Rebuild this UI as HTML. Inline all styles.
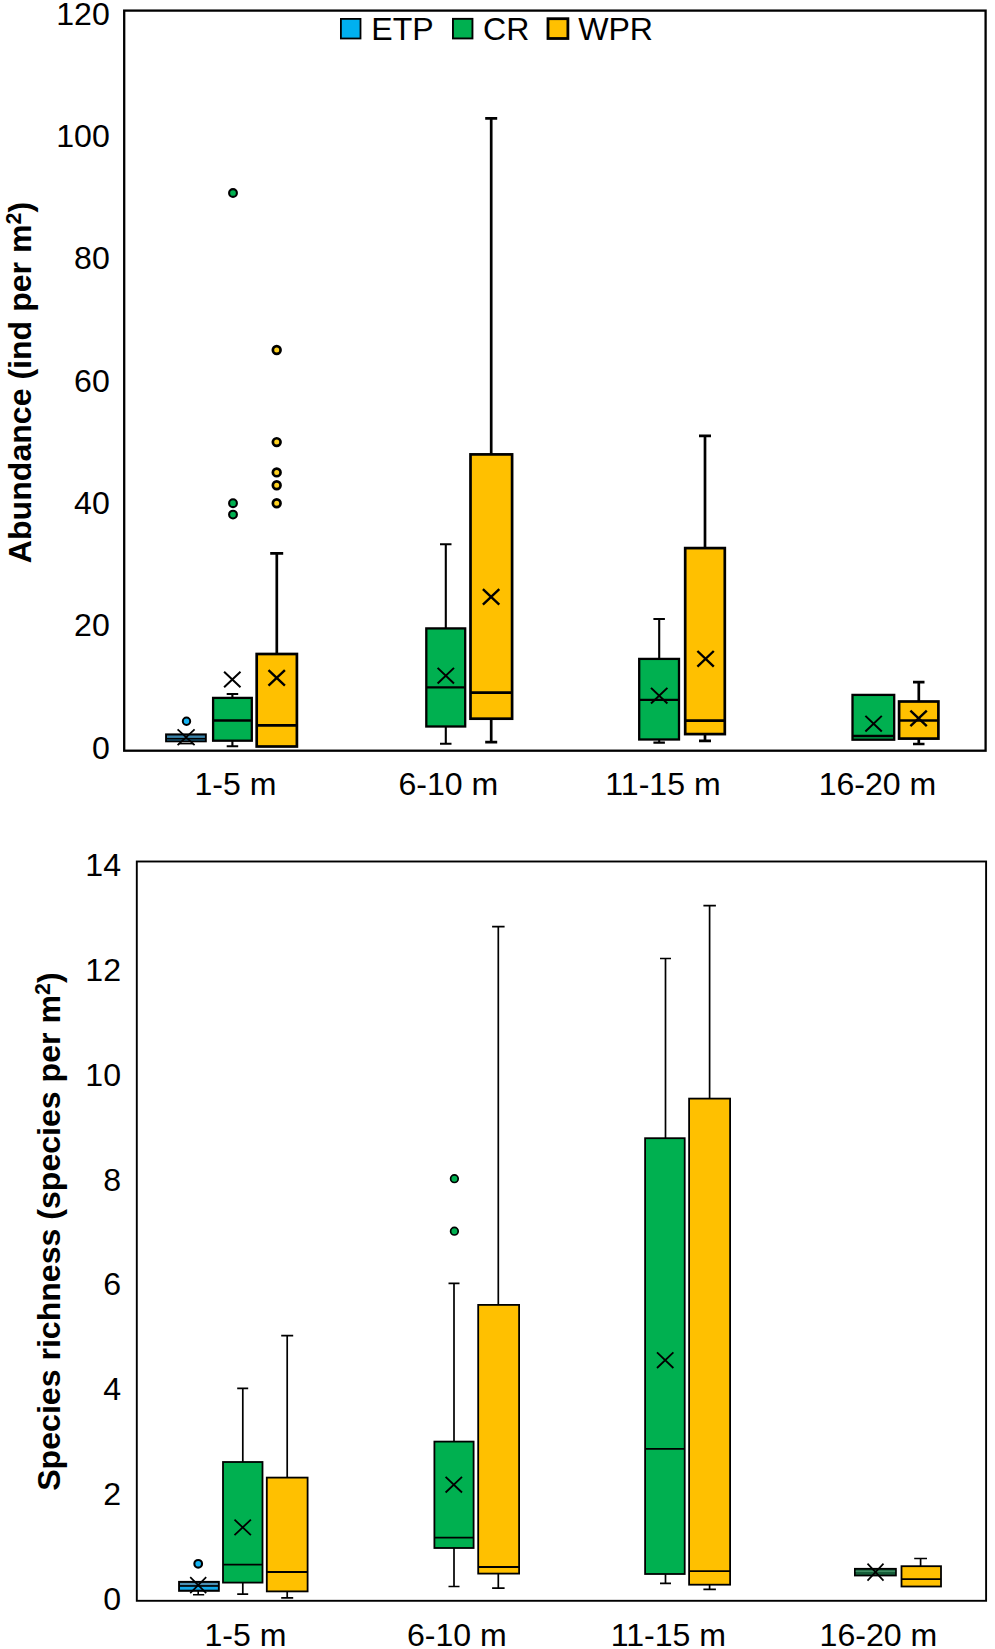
<!DOCTYPE html>
<html><head><meta charset="utf-8"><title>Box plots</title>
<style>html,body{margin:0;padding:0;background:#fff}svg{display:block}text{font-family:"Liberation Sans",sans-serif}</style>
</head><body>
<svg width="995" height="1649" viewBox="0 0 995 1649" font-family="Liberation Sans, sans-serif" font-size="32.1" fill="#000">
<rect width="995" height="1649" fill="#fff"/>
<g id="top">
<text x="109.8" y="24.7" text-anchor="end">120</text>
<text x="109.8" y="147.0" text-anchor="end">100</text>
<text x="109.8" y="269.3" text-anchor="end">80</text>
<text x="109.8" y="391.6" text-anchor="end">60</text>
<text x="109.8" y="513.9" text-anchor="end">40</text>
<text x="109.8" y="636.2" text-anchor="end">20</text>
<text x="109.8" y="758.5" text-anchor="end">0</text>
<text x="235.4" y="795.2" text-anchor="middle">1-5 m</text>
<text x="448.3" y="795.2" text-anchor="middle">6-10 m</text>
<text x="663.0" y="795.2" text-anchor="middle">11-15 m</text>
<text x="877.5" y="795.2" text-anchor="middle">16-20 m</text>
<text transform="translate(31.2 382.5) rotate(-90)" text-anchor="middle" font-weight="bold">Abundance (ind per m<tspan font-size="21.5" dy="-10.3">2</tspan><tspan dy="10.3">)</tspan></text>
<path d="M178.5 743.6H193.6" stroke="#000" stroke-width="1.6"/>
<rect x="165.1" y="733.4" width="41.7" height="8.9" fill="#000"/>
<rect x="167.0" y="735.5" width="37.9" height="2.4" fill="#3a84ab"/>
<rect x="167.0" y="739.3" width="37.9" height="1.4" fill="#17526f"/>
<path d="M177.6 729.4L194.6 745.2M177.6 745.2L194.6 729.4" stroke="#000" stroke-width="1.8" fill="none"/>
<circle cx="186.5" cy="721.3" r="3.7" fill="#14b3f2" stroke="#000" stroke-width="2.0"/>
<path d="M232.4 697.9V694.0M226.7 694.0H238.2" stroke="#000" stroke-width="2.1" fill="none"/>
<path d="M232.4 740.8V746.2M226.7 746.2H238.2" stroke="#000" stroke-width="2.1" fill="none"/>
<rect x="213.1" y="697.9" width="38.7" height="42.8" fill="#00b050" stroke="#000" stroke-width="2.3"/>
<path d="M213.1 720.5H251.8" stroke="#000" stroke-width="2.3"/>
<path d="M224.1 671.7L240.5 687.3M224.1 687.3L240.5 671.7" stroke="#000" stroke-width="2.0" fill="none"/>
<circle cx="233.0" cy="193.0" r="3.9" fill="#00b050" stroke="#000" stroke-width="2.1"/>
<circle cx="233.0" cy="503.2" r="3.9" fill="#00b050" stroke="#000" stroke-width="2.1"/>
<circle cx="233.0" cy="514.6" r="3.9" fill="#00b050" stroke="#000" stroke-width="2.1"/>
<path d="M276.8 654.0V553.4M270.2 553.4H283.2" stroke="#000" stroke-width="2.7" fill="none"/>
<rect x="256.7" y="654.0" width="40.2" height="92.5" fill="#ffc000" stroke="#000" stroke-width="2.7"/>
<path d="M256.7 725.3H296.8" stroke="#000" stroke-width="2.7"/>
<path d="M268.5 670.1L284.9 685.7M268.5 685.7L284.9 670.1" stroke="#000" stroke-width="2.4" fill="none"/>
<circle cx="276.7" cy="350.0" r="3.85" fill="#ffd21f" stroke="#000" stroke-width="2.7"/>
<circle cx="276.7" cy="442.1" r="3.85" fill="#ffd21f" stroke="#000" stroke-width="2.7"/>
<circle cx="276.7" cy="472.4" r="3.85" fill="#ffd21f" stroke="#000" stroke-width="2.7"/>
<circle cx="276.7" cy="485.3" r="3.85" fill="#ffd21f" stroke="#000" stroke-width="2.7"/>
<circle cx="276.7" cy="503.2" r="3.85" fill="#ffd21f" stroke="#000" stroke-width="2.7"/>
<path d="M445.8 628.4V544.3M440.0 544.3H451.5" stroke="#000" stroke-width="2.1" fill="none"/>
<path d="M445.8 726.5V743.7M440.0 743.7H451.5" stroke="#000" stroke-width="2.1" fill="none"/>
<rect x="426.3" y="628.4" width="38.9" height="98.1" fill="#00b050" stroke="#000" stroke-width="2.3"/>
<path d="M426.3 687.4H465.2" stroke="#000" stroke-width="2.3"/>
<path d="M437.6 667.9L454.0 683.5M437.6 683.5L454.0 667.9" stroke="#000" stroke-width="2.0" fill="none"/>
<path d="M491.2 454.4V118.3M485.2 118.3H497.2" stroke="#000" stroke-width="2.7" fill="none"/>
<path d="M491.2 718.6V742.1M485.2 742.1H497.2" stroke="#000" stroke-width="2.7" fill="none"/>
<rect x="470.5" y="454.4" width="41.6" height="264.3" fill="#ffc000" stroke="#000" stroke-width="2.7"/>
<path d="M470.5 692.6H512.0" stroke="#000" stroke-width="2.7"/>
<path d="M482.9 589.1L499.3 604.7M482.9 604.7L499.3 589.1" stroke="#000" stroke-width="2.4" fill="none"/>
<path d="M659.2 658.9V619.0M653.4 619.0H664.9" stroke="#000" stroke-width="2.1" fill="none"/>
<path d="M659.2 739.5V742.6M653.4 742.6H664.9" stroke="#000" stroke-width="2.1" fill="none"/>
<rect x="639.2" y="658.9" width="39.8" height="80.6" fill="#00b050" stroke="#000" stroke-width="2.3"/>
<path d="M639.2 699.8H679.1" stroke="#000" stroke-width="2.3"/>
<path d="M651.0 687.9L667.4 703.5M651.0 703.5L667.4 687.9" stroke="#000" stroke-width="2.0" fill="none"/>
<path d="M705.0 548.1V435.9M699.0 435.9H711.0" stroke="#000" stroke-width="2.7" fill="none"/>
<path d="M705.0 734.1V740.8M699.0 740.8H711.0" stroke="#000" stroke-width="2.7" fill="none"/>
<rect x="685.2" y="548.1" width="39.6" height="186.0" fill="#ffc000" stroke="#000" stroke-width="2.7"/>
<path d="M685.2 720.6H724.9" stroke="#000" stroke-width="2.7"/>
<path d="M697.4 651.0L713.8 666.6M697.4 666.6L713.8 651.0" stroke="#000" stroke-width="2.4" fill="none"/>
<rect x="852.5" y="694.9" width="41.7" height="44.8" fill="#00b050" stroke="#000" stroke-width="2.3"/>
<path d="M852.5 736.0H894.2" stroke="#000" stroke-width="2.3"/>
<path d="M865.4 715.9L881.8 731.5M865.4 731.5L881.8 715.9" stroke="#000" stroke-width="2.0" fill="none"/>
<path d="M918.8 701.5V682.1M913.0 682.1H924.5" stroke="#000" stroke-width="2.7" fill="none"/>
<path d="M918.8 738.5V744.0M913.0 744.0H924.5" stroke="#000" stroke-width="2.7" fill="none"/>
<rect x="899.1" y="701.5" width="39.3" height="37.1" fill="#ffc000" stroke="#000" stroke-width="2.7"/>
<path d="M899.1 720.5H938.4" stroke="#000" stroke-width="2.7"/>
<path d="M910.4 710.6L926.8 726.2M910.4 726.2L926.8 710.6" stroke="#000" stroke-width="2.4" fill="none"/>
<rect x="124.2" y="10.6" width="861.4" height="740.1" fill="none" stroke="#000" stroke-width="2.3"/>
<rect x="340.90" y="18.90" width="19.60" height="19.60" fill="#00b0f0" stroke="#000" stroke-width="1.8"/>
<text x="371.3" y="40.4" text-anchor="start">ETP</text>
<rect x="452.95" y="18.85" width="19.50" height="19.60" fill="#00b050" stroke="#000" stroke-width="1.9"/>
<text x="483.0" y="40.4" text-anchor="start">CR</text>
<rect x="548.00" y="18.70" width="19.90" height="19.80" fill="#ffc000" stroke="#000" stroke-width="2.8"/>
<text x="578.2" y="40.4" text-anchor="start">WPR</text>
</g>
<g id="bot">
<text x="121.0" y="876.0" text-anchor="end">14</text>
<text x="121.0" y="980.8" text-anchor="end">12</text>
<text x="121.0" y="1085.7" text-anchor="end">10</text>
<text x="121.0" y="1190.5" text-anchor="end">8</text>
<text x="121.0" y="1295.4" text-anchor="end">6</text>
<text x="121.0" y="1400.2" text-anchor="end">4</text>
<text x="121.0" y="1505.0" text-anchor="end">2</text>
<text x="121.0" y="1609.9" text-anchor="end">0</text>
<text x="245.5" y="1645.8" text-anchor="middle">1-5 m</text>
<text x="456.9" y="1645.8" text-anchor="middle">6-10 m</text>
<text x="668.4" y="1645.8" text-anchor="middle">11-15 m</text>
<text x="878.4" y="1645.8" text-anchor="middle">16-20 m</text>
<text transform="translate(60.2 1231.6) rotate(-90)" text-anchor="middle" font-weight="bold">Species richness (species per m<tspan font-size="21.5" dy="-10.3">2</tspan><tspan dy="10.3">)</tspan></text>
<path d="M198.2 1591V1594.8M193 1594.8H204.2" stroke="#000" stroke-width="1.6" fill="none"/>
<rect x="178.1" y="1580.9" width="41.7" height="10.9" fill="#000"/>
<rect x="180.0" y="1582.9" width="37.9" height="2.2" fill="#4a8fb3"/>
<rect x="180.0" y="1586.8" width="37.9" height="2.9" fill="#12a9ea"/>
<path d="M190.2 1577.2L206.2 1593.2M190.2 1593.2L206.2 1577.2" stroke="#000" stroke-width="1.7" fill="none"/>
<circle cx="198.2" cy="1563.8" r="3.85" fill="#14b3f2" stroke="#000" stroke-width="2.1"/>
<path d="M242.8 1462.0V1388.3M237.2 1388.3H248.2" stroke="#000" stroke-width="1.7" fill="none"/>
<path d="M242.8 1582.6V1594.2M237.2 1594.2H248.2" stroke="#000" stroke-width="1.7" fill="none"/>
<rect x="223.0" y="1462.0" width="39.5" height="120.6" fill="#00b050" stroke="#000" stroke-width="1.8"/>
<path d="M223.0 1564.7H262.5" stroke="#000" stroke-width="1.8"/>
<path d="M234.5 1519.6L250.9 1535.2M234.5 1535.2L250.9 1519.6" stroke="#000" stroke-width="1.8" fill="none"/>
<path d="M287.2 1477.6V1335.7M281.2 1335.7H293.2" stroke="#000" stroke-width="1.7" fill="none"/>
<path d="M287.2 1591.4V1597.9M281.2 1597.9H293.2" stroke="#000" stroke-width="1.7" fill="none"/>
<rect x="266.8" y="1477.6" width="40.8" height="113.8" fill="#ffc000" stroke="#000" stroke-width="1.8"/>
<path d="M266.8 1572.0H307.6" stroke="#000" stroke-width="1.8"/>
<path d="M454.0 1441.6V1283.3M448.5 1283.3H459.5" stroke="#000" stroke-width="1.7" fill="none"/>
<path d="M454.0 1548.0V1586.5M448.5 1586.5H459.5" stroke="#000" stroke-width="1.7" fill="none"/>
<rect x="434.4" y="1441.6" width="39.2" height="106.4" fill="#00b050" stroke="#000" stroke-width="1.8"/>
<path d="M434.4 1537.7H473.6" stroke="#000" stroke-width="1.8"/>
<path d="M445.6 1476.9L462.0 1492.5M445.6 1492.5L462.0 1476.9" stroke="#000" stroke-width="1.8" fill="none"/>
<circle cx="454.4" cy="1178.7" r="3.8" fill="#00b050" stroke="#000" stroke-width="1.7"/>
<circle cx="454.4" cy="1231.2" r="3.8" fill="#00b050" stroke="#000" stroke-width="1.7"/>
<path d="M498.3 1304.9V926.6M492.1 926.6H504.6" stroke="#000" stroke-width="1.7" fill="none"/>
<path d="M498.3 1573.6V1588.2M492.1 1588.2H504.6" stroke="#000" stroke-width="1.7" fill="none"/>
<rect x="478.2" y="1304.9" width="40.9" height="268.7" fill="#ffc000" stroke="#000" stroke-width="1.8"/>
<path d="M478.2 1567.0H519.1" stroke="#000" stroke-width="1.8"/>
<path d="M665.5 1138.2V958.5M660.0 958.5H671.0" stroke="#000" stroke-width="1.7" fill="none"/>
<path d="M665.5 1574.0V1583.4M660.0 1583.4H671.0" stroke="#000" stroke-width="1.7" fill="none"/>
<rect x="645.1" y="1138.2" width="39.6" height="435.8" fill="#00b050" stroke="#000" stroke-width="1.8"/>
<path d="M645.1 1448.9H684.7" stroke="#000" stroke-width="1.8"/>
<path d="M657.0 1352.4L673.4 1368.0M657.0 1368.0L673.4 1352.4" stroke="#000" stroke-width="1.8" fill="none"/>
<path d="M709.6 1098.6V905.7M703.4 905.7H715.9" stroke="#000" stroke-width="1.7" fill="none"/>
<path d="M709.6 1584.7V1589.3M703.4 1589.3H715.9" stroke="#000" stroke-width="1.7" fill="none"/>
<rect x="689.1" y="1098.6" width="41.0" height="486.1" fill="#ffc000" stroke="#000" stroke-width="1.8"/>
<path d="M689.1 1571.1H730.1" stroke="#000" stroke-width="1.8"/>
<rect x="854.0" y="1567.9" width="42.8" height="8.5" fill="#000"/>
<rect x="855.7" y="1569.7" width="39.4" height="5.0" fill="#155c38"/>
<rect x="855.7" y="1570.5" width="39.4" height="1.5" fill="#3f8d62"/>
<path d="M867.5 1563.6L883.5 1580.6M867.5 1580.6L883.5 1563.6" stroke="#000" stroke-width="1.7" fill="none"/>
<path d="M920.6 1566.2V1558.5M914.2 1558.5H927.0" stroke="#000" stroke-width="1.7" fill="none"/>
<rect x="901.5" y="1566.2" width="39.5" height="20.3" fill="#ffc000" stroke="#000" stroke-width="1.8"/>
<path d="M901.5 1579.2H941.0" stroke="#000" stroke-width="1.8"/>
<rect x="136.8" y="861.5" width="849.3" height="739.3" fill="none" stroke="#000" stroke-width="1.9"/>
</g>
</svg>
</body></html>
